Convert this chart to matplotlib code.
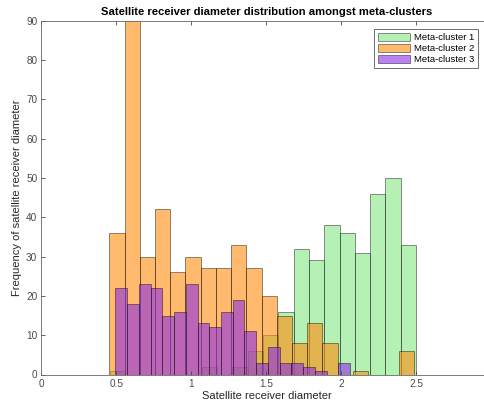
import numpy as np
import matplotlib
matplotlib.use("Agg")
import matplotlib.pyplot as plt

plt.rcParams["font.family"] = ["Liberation Sans", "DejaVu Sans"]

# histogram counts (each series has its own bins)
labels = ["Meta-cluster 1", "Meta-cluster 2", "Meta-cluster 3"]

edges1 = np.linspace(0.457, 2.497, 21)
counts1 = [1, 0, 0, 0, 0, 0, 2, 0, 2, 6, 10, 16, 32, 29, 38, 36, 31, 46, 50, 33]

edges2 = np.linspace(0.452, 2.482, 21)
counts2 = [36, 97, 30, 42, 26, 30, 27, 27, 33, 27, 20, 15, 8, 13, 8, 0, 1, 0, 0, 6]

edges3 = np.linspace(0.492, 2.058, 21)
counts3 = [22, 18, 23, 22, 15, 16, 23, 13, 12, 16, 19, 11, 3, 7, 3, 3, 2, 1, 0, 3]

xticks = [0, 0.5, 1, 1.5, 2, 2.5]
xticklabels = ["0", "0.5", "1", "1.5", "2", "2.5"]
yticks = list(range(0, 91, 10))

colors = [(0.52, 0.90, 0.52), (1.0, 0.55, 0.05), (0.55, 0.18, 0.90)]

fig = plt.figure(figsize=(4.85, 4.04), dpi=100)
ax = fig.add_axes([41.5 / 485, 1 - 374.5 / 404, 450 / 485, 353.8 / 404])

for edges, counts, col, lab in zip([edges1, edges2, edges3],
                                   [counts1, counts2, counts3], colors, labels):
    ax.bar(edges[:-1], counts, width=np.diff(edges), align="edge",
           color=(*col, 0.6), edgecolor=(0, 0, 0, 0.5), linewidth=0.6,
           label=lab)

ax.set_xlim(0, 3)
ax.set_ylim(0, 90)
ax.set_xticks(xticks)
ax.set_xticklabels(xticklabels)
ax.set_yticks(yticks)
ax.tick_params(direction="in", top=True, right=True, length=3, width=0.6,
               labelsize=7.2, colors="#4a4a4a", pad=3)
for sp in ax.spines.values():
    sp.set_linewidth(0.6)
    sp.set_color("#666666")

ax.set_title("Satellite receiver diameter distribution amongst meta-clusters",
             fontsize=8.1, fontweight="bold", pad=4)
ax.set_xlabel("Satellite receiver diameter", fontsize=8, color="#262626", labelpad=2)
ax.set_ylabel("Frequency of satellite receiver diameter", fontsize=8,
              color="#262626", labelpad=3)

leg = ax.legend(loc="upper right", bbox_to_anchor=(478 / 485, 1 - 29 / 404),
                bbox_transform=fig.transFigure, borderaxespad=0, fontsize=6.8,
                fancybox=False, framealpha=1, handlelength=3.4, handleheight=1.0,
                labelspacing=0.15, borderpad=0.4, handletextpad=0.4)
leg.get_frame().set_edgecolor("#555555")
leg.get_frame().set_linewidth(0.6)

fig.savefig("out.png", dpi=100)
